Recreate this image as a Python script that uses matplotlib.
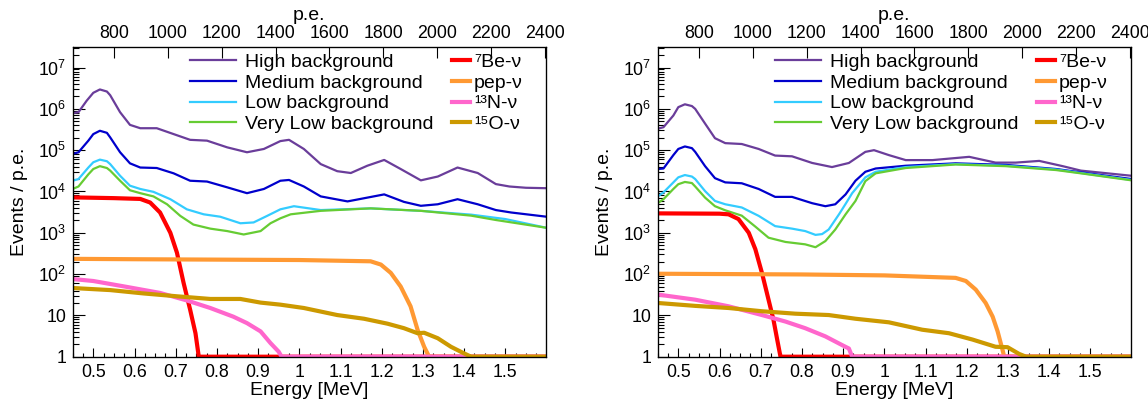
import matplotlib
matplotlib.use('Agg')
import matplotlib.pyplot as plt
import matplotlib.ticker as ticker
from matplotlib.lines import Line2D
import numpy as np

plt.rcParams['font.family'] = ['Liberation Sans', 'DejaVu Sans']
plt.rcParams['mathtext.default'] = 'regular'

# ---- Data ----
# Left panel
E_high_L = [0.45, 0.464, 0.484, 0.50, 0.516, 0.533, 0.541, 0.565, 0.589, 0.614, 0.654, 0.695, 0.735, 0.776,
            0.825, 0.873, 0.914, 0.954, 0.975, 1.011, 1.052, 1.092, 1.125, 1.165, 1.206, 1.246, 1.295, 1.336,
            1.384, 1.433, 1.477, 1.51, 1.55, 1.6]
high_L = [7.9e5, 8.3e5, 1.58e6, 2.45e6, 2.95e6, 2.63e6, 2.14e6, 8.3e5, 4.1e5, 3.4e5, 3.4e5, 2.45e5, 1.78e5,
          1.7e5, 1.17e5, 8.9e4, 1.07e5, 1.66e5, 1.78e5, 1.07e5, 4.6e4, 3.1e4, 2.8e4, 4.2e4, 5.8e4, 3.5e4, 1.86e4,
          2.3e4, 3.8e4, 2.8e4, 1.51e4, 1.32e4, 1.23e4, 1.2e4]

E_med_L = [0.45, 0.464, 0.488, 0.50, 0.516, 0.533, 0.541, 0.565, 0.589, 0.614, 0.654, 0.695, 0.735, 0.776,
           0.825, 0.873, 0.914, 0.954, 0.975, 1.011, 1.052, 1.117, 1.165, 1.206, 1.254, 1.295, 1.336, 1.384,
           1.433, 1.477, 1.514, 1.6]
med_L = [8.1e4, 8.9e4, 1.7e5, 2.45e5, 2.95e5, 2.63e5, 2.04e5, 8.9e4, 4.8e4, 3.8e4, 3.7e4, 2.75e4, 1.82e4,
         1.74e4, 1.26e4, 9.1e3, 1.15e4, 1.82e4, 1.9e4, 1.32e4, 7.6e3, 5.75e3, 7.1e3, 8.5e3, 5.6e3, 4.5e3, 4.9e3,
         6.5e3, 4.9e3, 3.55e3, 3.1e3, 2.45e3]

E_low_L = [0.45, 0.464, 0.488, 0.50, 0.516, 0.533, 0.541, 0.565, 0.589, 0.614, 0.646, 0.687, 0.727, 0.768,
           0.808, 0.857, 0.889, 0.922, 0.954, 0.987, 1.052, 1.173, 1.295, 1.417, 1.477, 1.5, 1.6]
low_L = [1.82e4, 2.0e4, 3.8e4, 5.1e4, 5.9e4, 5.4e4, 4.6e4, 2.4e4, 1.38e4, 1.15e4, 9.8e3, 6.5e3, 3.7e3, 2.8e3,
         2.45e3, 1.7e3, 1.78e3, 2.57e3, 3.7e3, 4.4e3, 3.55e3, 3.9e3, 3.4e3, 2.75e3, 2.3e3, 2.15e3, 1.32e3]

E_vlow_L = [0.45, 0.464, 0.488, 0.50, 0.516, 0.533, 0.541, 0.565, 0.589, 0.614, 0.646, 0.679, 0.711, 0.743,
            0.784, 0.825, 0.865, 0.906, 0.93, 0.954, 0.979, 1.052, 1.173, 1.295, 1.417, 1.477, 1.6]
vlow_L = [1.15e4, 1.32e4, 2.6e4, 3.5e4, 4.1e4, 3.7e4, 3.2e4, 1.82e4, 1.07e4, 9.1e3, 7.6e3, 4.9e3, 2.57e3,
          1.58e3, 1.26e3, 1.1e3, 910, 1.1e3, 1.7e3, 2.24e3, 2.8e3, 3.4e3, 3.9e3, 3.4e3, 2.6e3, 2.04e3, 1.32e3]

E_be_L = [0.45, 0.55, 0.614, 0.638, 0.662, 0.687, 0.703, 0.719, 0.735, 0.748, 0.756, 1.6]
be_L = [7.2e3, 6.9e3, 6.6e3, 5.4e3, 3.1e3, 1.0e3, 330, 62, 13.8, 3.7, 1, 1]

E_pep_L = [0.45, 0.6, 0.8, 1.0, 1.173, 1.198, 1.222, 1.246, 1.27, 1.287, 1.303, 1.315, 1.6]
pep_L = [234, 229, 224, 219, 204, 170, 107, 50, 16.6, 4.5, 1.74, 1, 1]

E_n13_L = [0.45, 0.5, 0.581, 0.662, 0.727, 0.784, 0.84, 0.873, 0.906, 0.93, 0.95, 0.957, 1.6]
n13_L = [76, 68, 49, 35, 23, 15.1, 9.3, 6.5, 4.1, 2.14, 1.32, 1, 1]

E_o15_L = [0.45, 0.541, 0.622, 0.703, 0.784, 0.857, 0.906, 0.954, 1.011, 1.092, 1.157, 1.214, 1.254, 1.287,
           1.303, 1.336, 1.368, 1.40, 1.417, 1.6]
o15_L = [46, 41, 34, 29, 25, 25, 20.4, 18.2, 15.1, 10.2, 8.3, 6.3, 4.9, 3.7, 3.8, 2.8, 1.74, 1.2, 1, 1]

# Right panel
E_high_R = [0.45, 0.464, 0.488, 0.50, 0.516, 0.533, 0.541, 0.565, 0.589, 0.614, 0.654, 0.695, 0.735, 0.776,
            0.825, 0.873, 0.914, 0.954, 0.975, 1.011, 1.052, 1.117, 1.206, 1.27, 1.319, 1.376, 1.433, 1.477, 1.6]
high_R = [3.3e5, 3.6e5, 6.9e5, 1.1e6, 1.29e6, 1.17e6, 1.0e6, 4.4e5, 1.95e5, 1.48e5, 1.41e5, 1.07e5, 7.4e4,
          7.1e4, 4.9e4, 3.9e4, 4.9e4, 9.1e4, 1.0e5, 7.6e4, 5.75e4, 5.75e4, 6.9e4, 5.0e4, 5.0e4, 5.5e4, 4.1e4,
          3.2e4, 2.4e4]

E_med_R = [0.45, 0.464, 0.488, 0.50, 0.516, 0.533, 0.541, 0.565, 0.589, 0.614, 0.654, 0.695, 0.735, 0.776,
           0.825, 0.857, 0.881, 0.906, 0.93, 0.954, 0.979, 1.052, 1.173, 1.295, 1.417, 1.477, 1.6]
med_R = [3.5e4, 3.6e4, 7.6e4, 1.07e5, 1.23e5, 1.12e5, 9.1e4, 4.1e4, 2.1e4, 1.66e4, 1.58e4, 1.15e4, 7.4e3,
         7.4e3, 5.2e3, 4.4e3, 4.9e3, 8.5e3, 1.82e4, 3.0e4, 3.6e4, 4.2e4, 4.8e4, 4.4e4, 3.5e4, 2.9e4, 2.0e4]

E_low_R = [0.45, 0.464, 0.488, 0.50, 0.516, 0.533, 0.541, 0.565, 0.589, 0.614, 0.654, 0.695, 0.735, 0.776,
           0.808, 0.833, 0.849, 0.865, 0.89, 0.906, 0.922, 0.954, 0.979, 1.052, 1.173, 1.295, 1.417, 1.477, 1.6]
low_R = [7.6e3, 9.5e3, 1.66e4, 2.2e4, 2.5e4, 2.3e4, 2.0e4, 1.02e4, 5.9e3, 4.9e3, 4.1e3, 2.57e3, 1.45e3, 1.26e3,
         1.1e3, 890, 930, 1.2e3, 2.8e3, 5.0e3, 9.1e3, 2.2e4, 3.0e4, 3.9e4, 4.6e4, 4.2e4, 3.4e4, 2.8e4, 1.9e4]

E_vlow_R = [0.45, 0.464, 0.488, 0.50, 0.516, 0.533, 0.541, 0.565, 0.589, 0.614, 0.654, 0.687, 0.719, 0.76,
            0.808, 0.833, 0.857, 0.881, 0.906, 0.93, 0.954, 0.979, 1.052, 1.173, 1.295, 1.417, 1.477, 1.6]
vlow_R = [5.2e3, 6.5e3, 1.15e4, 1.5e4, 1.7e4, 1.6e4, 1.32e4, 7.1e3, 4.4e3, 3.5e3, 2.6e3, 1.41e3, 760, 600,
          525, 447, 630, 1.2e3, 2.8e3, 5.9e3, 1.78e4, 2.75e4, 3.7e4, 4.5e4, 4.1e4, 3.3e4, 2.75e4, 1.86e4]

E_be_R = [0.45, 0.6, 0.622, 0.646, 0.671, 0.687, 0.703, 0.719, 0.731, 0.74, 0.748, 1.6]
be_R = [2.95e3, 2.9e3, 2.8e3, 2.15e3, 1.0e3, 400, 107, 24, 7.8, 2.6, 1, 1]

E_pep_R = [0.45, 0.8, 1.0, 1.173, 1.198, 1.222, 1.246, 1.263, 1.275, 1.287, 1.291, 1.6]
pep_R = [102, 98, 93, 81, 68, 42, 20, 9.3, 4.1, 1.45, 1, 1]

E_n13_R = [0.45, 0.541, 0.622, 0.703, 0.76, 0.808, 0.857, 0.898, 0.914, 0.922, 1.6]
n13_R = [32, 24, 16.6, 10.2, 7.1, 4.9, 3.1, 1.9, 1.58, 1, 1]

E_o15_R = [0.45, 0.541, 0.622, 0.703, 0.784, 0.865, 0.93, 1.011, 1.092, 1.157, 1.214, 1.27, 1.299, 1.327,
           1.344, 1.6]
o15_R = [20, 17, 15.1, 12.6, 11, 10.2, 8.3, 6.8, 4.5, 3.7, 2.6, 1.74, 1.7, 1.17, 1, 1]

bg_labels = ['High background', 'Medium background', 'Low background', 'Very Low background']
bg_colors = ['#6a3d9a', '#0000cc', '#33ccff', '#66cc33']
sig_labels = ['\u2077Be-ν', 'pep-ν', '\u00b9\u00b3N-ν', '\u00b9\u2075O-ν']
sig_colors = ['#ff0000', '#ff9933', '#ff66cc', '#cc9900']

panels = [
    ([(E_high_L, high_L), (E_med_L, med_L), (E_low_L, low_L), (E_vlow_L, vlow_L)],
     [(E_be_L, be_L), (E_pep_L, pep_L), (E_n13_L, n13_L), (E_o15_L, o15_L)]),
    ([(E_high_R, high_R), (E_med_R, med_R), (E_low_R, low_R), (E_vlow_R, vlow_R)],
     [(E_be_R, be_R), (E_pep_R, pep_R), (E_n13_R, n13_R), (E_o15_R, o15_R)]),
]

W, H = 1148, 401
fig = plt.figure(figsize=(W / 100, H / 100), dpi=100)
lefts = [72.7, 657.7]
FS = 14

for k, (bgs, sigs) in enumerate(panels):
    ax = fig.add_axes([lefts[k] / W, 44.3 / H, 473 / W, 310 / H])
    for (x, y), c in zip(bgs, bg_colors):
        ax.plot(x, y, color=c, lw=1.6)
    for (x, y), c in zip(sigs, sig_colors):
        ax.plot(x, y, color=c, lw=3.0, solid_capstyle='butt')

    ax.set_yscale('log')
    ax.set_xlim(0.45, 1.598)
    ax.set_ylim(1, 3.2e7)
    ax.yaxis.set_major_locator(ticker.FixedLocator([10.0 ** i for i in range(8)]))
    ax.yaxis.set_major_formatter(ticker.FuncFormatter(
        lambda v, p: '1' if v < 5 else ('10' if v < 50 else '$10^{%d}$' % round(np.log10(v)))))
    ax.yaxis.set_minor_locator(ticker.LogLocator(base=10, subs=np.arange(2, 10), numticks=20))
    ax.yaxis.set_minor_formatter(ticker.NullFormatter())
    ax.xaxis.set_major_locator(ticker.MultipleLocator(0.1))
    ax.xaxis.set_minor_locator(ticker.MultipleLocator(0.025))
    ax.xaxis.set_major_formatter(ticker.FuncFormatter(lambda v, p: '%g' % round(v, 2)))
    ax.tick_params(axis='both', which='both', direction='in', top=False, right=False, width=0.8)
    ax.tick_params(axis='y', which='major', length=8.5, pad=4.5, labelsize=12.8)
    ax.tick_params(axis='y', which='minor', length=4.3)
    ax.tick_params(axis='x', which='major', length=6.5, pad=5, labelsize=12.8)
    ax.tick_params(axis='x', which='minor', length=3.2)
    for s in ax.spines.values():
        s.set_linewidth(0.9)

    ax.set_xlabel('Energy [MeV]', fontsize=FS)
    ax.xaxis.set_label_coords(0.5, -0.083)
    ax.set_ylabel('Events / p.e.', fontsize=FS)
    ax.yaxis.set_label_coords(-0.095, 0.5)

    top = ax.twiny()
    top.set_xlim(647, 2403)
    top.xaxis.set_major_locator(ticker.MultipleLocator(200))
    top.xaxis.set_minor_locator(ticker.NullLocator())
    top.tick_params(axis='x', which='major', direction='in', length=8, width=0.8, pad=3.5, labelsize=12.8)
    top.set_xlabel('p.e.', fontsize=FS)
    top.xaxis.set_label_coords(0.5, 1.085)

    h1 = [Line2D([], [], color=c, lw=1.6) for c in bg_colors]
    leg1 = top.legend(h1, bg_labels, loc='upper left', bbox_to_anchor=(0.248, 0.978), frameon=False,
                      fontsize=FS, handlelength=2.35, handletextpad=0.5, labelspacing=0.155,
                      borderpad=0, borderaxespad=0)
    top.add_artist(leg1)
    h2 = [Line2D([], [], color=c, lw=3.0) for c in sig_colors]
    top.legend(h2, sig_labels, loc='upper left', bbox_to_anchor=(0.801, 0.978), frameon=False,
               fontsize=FS, handlelength=0.95, handletextpad=0.2, labelspacing=0.155,
               borderpad=0, borderaxespad=0)

fig.savefig('out.png', dpi=100)
